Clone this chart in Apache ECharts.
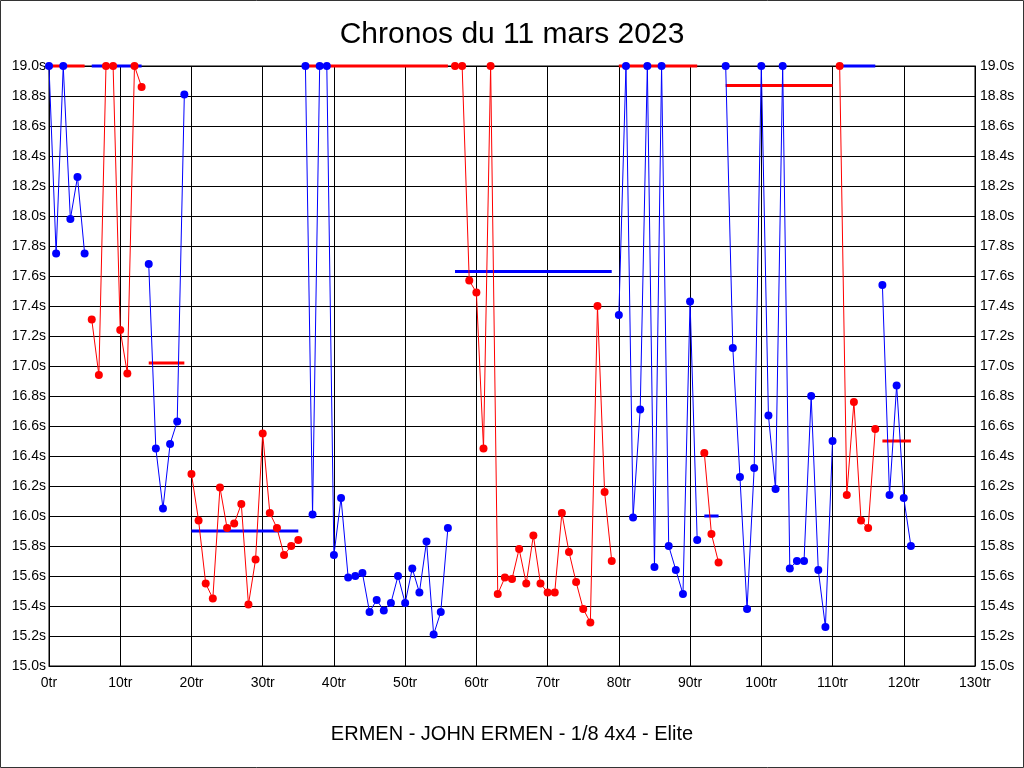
<!DOCTYPE html>
<html>
<head>
<meta charset="utf-8">
<script src="https://cdn.jsdelivr.net/npm/echarts@6/dist/echarts.min.js"></script>
<style>
html,body{margin:0;padding:0;background:#fff;}
#chart{width:1024px;height:768px;}
</style>
</head>
<body>
<div id="chart"></div>
<script>
// Lap times per run (seconds), values shown clipped at 19.0
const segStart = [0, 6, 14, 20, 36, 57, 80, 92, 95, 111, 117];
const lapsA = [19.0, 17.75, 19.0, 17.98, 18.26, 17.75];
const lapsB = [17.31, 16.94, 19.0, 19.0, 17.24, 16.95, 19.0, 18.86];
const lapsC = [17.68, 16.45, 16.05, 16.48, 16.63, 18.81];
const lapsD = [16.28, 15.97, 15.55, 15.45, 16.19, 15.92, 15.95, 16.08, 15.41, 15.71, 16.55, 16.02, 15.92, 15.74, 15.80, 15.84];
const lapsE = [19.0, 16.01, 19.0, 19.0, 15.74, 16.12, 15.59, 15.60, 15.62, 15.36, 15.44, 15.37, 15.42, 15.60, 15.42, 15.65, 15.49, 15.83, 15.21, 15.36, 15.92];
const lapsF = [19.0, 19.0, 17.57, 17.49, 16.45, 19.0, 15.48, 15.59, 15.58, 15.78, 15.55, 15.87, 15.55, 15.49, 15.49, 16.02, 15.76, 15.56, 15.38, 15.29, 17.40, 16.16, 15.70];
const lapsG = [17.34, 19.0, 15.99, 16.71, 19.0, 15.66, 19.0, 15.80, 15.64, 15.48, 17.43, 15.84];
const lapsH = [16.42, 15.88, 15.69];
const lapsI = [19.0, 17.12, 16.26, 15.38, 16.32, 19.0, 16.67, 16.18, 19.0, 15.65, 15.70, 15.70, 16.80, 15.64, 15.26, 16.50];
const lapsJ = [19.0, 16.14, 16.76, 15.97, 15.92, 16.58];
const lapsK = [17.54, 16.14, 16.87, 16.12, 15.80];
const segAvg = [19.0, 19.0, 17.02, 15.90, 19.0, 17.63, 19.0, 16.00, 18.87, 19.0, 16.50];
const segColor = ['#0000ff', '#ff0000', '#0000ff', '#ff0000', '#0000ff', '#ff0000', '#0000ff', '#ff0000', '#0000ff', '#ff0000', '#0000ff'];
const avgColor = ['#ff0000', '#0000ff', '#ff0000', '#0000ff', '#ff0000', '#0000ff', '#ff0000', '#0000ff', '#ff0000', '#0000ff', '#ff0000'];
const titleText = 'Chronos du 11 mars 2023';
const subText = 'ERMEN - JOHN ERMEN - 1/8 4x4 - Elite';

const allLaps = [lapsA, lapsB, lapsC, lapsD, lapsE, lapsF, lapsG, lapsH, lapsI, lapsJ, lapsK];
const series = [];
allLaps.forEach((laps, i) => {
  const s = segStart[i];
  const e = s + laps.length - 1;
  series.push({
    type: 'line', z: 1, silent: true, symbol: 'none', clip: false,
    lineStyle: { color: avgColor[i], width: 3 },
    data: [[s, segAvg[i]], [e, segAvg[i]]]
  });
  series.push({
    type: 'line', z: 3, silent: true, clip: false,
    symbol: 'circle', symbolSize: 8,
    itemStyle: { color: segColor[i] },
    lineStyle: { color: segColor[i], width: 1 },
    data: laps.map((v, k) => [s + k, v])
  });
});

const chart = echarts.init(document.getElementById('chart'), null, { renderer: 'canvas' });
const fam = 'Liberation Sans, Arial, sans-serif';
const axisFont = { color: '#000', fontSize: 14, fontFamily: fam };
const yAx = (pos) => ({
  type: 'value', position: pos, min: 15, max: 19, interval: 0.2,
  axisLine: { show: true, lineStyle: { color: '#000' } },
  axisTick: { show: false },
  splitLine: { show: pos === 'left', lineStyle: { color: '#000', width: 1 } },
  axisLabel: Object.assign({ margin: pos === 'left' ? 3 : 5, formatter: v => v.toFixed(1) + 's' }, axisFont)
});
chart.setOption({
  animation: false,
  backgroundColor: '#fff',
  title: [
    { text: titleText, left: 'center', top: 15, textStyle: { fontSize: 30, fontWeight: 'normal', color: '#000', fontFamily: fam } },
    { text: subText, left: 'center', top: 719, textStyle: { fontSize: 20, fontWeight: 'normal', color: '#000', fontFamily: fam } }
  ],
  grid: { left: 49, right: 49, top: 66, bottom: 102, show: true, borderColor: '#000', borderWidth: 1, containLabel: false },
  xAxis: {
    type: 'value', min: 0, max: 130, interval: 10,
    axisLine: { show: true, onZero: false, lineStyle: { color: '#000' } },
    axisTick: { show: false },
    splitLine: { show: true, lineStyle: { color: '#000', width: 1 } },
    axisLabel: Object.assign({ margin: 10, formatter: v => v + 'tr' }, axisFont)
  },
  yAxis: [yAx('left'), yAx('right')],
  graphic: [{ type: 'rect', shape: { x: 0.5, y: 0.5, width: 1023, height: 767 }, style: { fill: 'none', stroke: '#333', lineWidth: 1 }, silent: true }],
  series: series
});
</script>
</body>
</html>
